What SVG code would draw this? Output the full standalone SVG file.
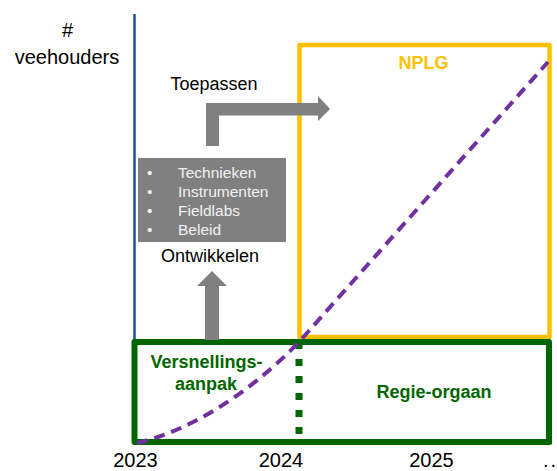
<svg xmlns="http://www.w3.org/2000/svg" width="557" height="471" viewBox="0 0 557 471">
<style>
text{font-family:"Liberation Sans",Arial,sans-serif}
.lbl{font-size:18px;fill:#000;text-anchor:middle}
.axis{font-size:20px;fill:#000;text-anchor:middle}
.bul{font-size:15.5px;fill:#F2F2F2}
.green{font-size:18px;font-weight:bold;fill:#006600;text-anchor:middle}
.gray{fill:#808080}
</style>
<g id="axes">
<line x1="134.5" y1="14" x2="134.5" y2="443" stroke="#1F4E9A" stroke-width="2.5"/>
<line x1="134" y1="443" x2="552" y2="443" stroke="#1F4E9A" stroke-width="2.5"/>
<text class="lbl" x="67.5" y="37" style="font-size:20px">#</text>
<text class="lbl" x="67" y="64" style="font-size:20px">veehouders</text>
</g>
<g id="nplg">
<rect x="299.5" y="45" width="250" height="292" fill="none" stroke="#FFC000" stroke-width="4.5" stroke-linejoin="round"/>
<text x="423.5" y="69" style="font-size:18px;font-weight:bold;fill:#FFC000" text-anchor="middle">NPLG</text>
</g>
<g id="versnellingsaanpak">
<path d="M299,342 H134.5 V442 H299" fill="none" stroke="#006600" stroke-width="6" stroke-linejoin="round"/>
<line x1="299" y1="342" x2="299" y2="442" stroke="#006600" stroke-width="7" stroke-dasharray="7 10"/>
<text class="green" x="206.5" y="368">Versnellings-</text>
<text class="green" x="206" y="390">aanpak</text>
</g>
<g id="regie-orgaan">
<path d="M299,342 H549 V442 H299" fill="none" stroke="#006600" stroke-width="6" stroke-linejoin="round"/>
<text class="green" x="434" y="398">Regie-orgaan</text>
</g>
<g id="ontwikkelen">
<rect class="gray" x="138" y="158" width="148" height="84"/>
<text class="bul" x="147" y="178">•</text>
<text class="bul" x="178" y="178">Technieken</text>
<text class="bul" x="147" y="197">•</text>
<text class="bul" x="178" y="197">Instrumenten</text>
<text class="bul" x="147" y="216">•</text>
<text class="bul" x="178" y="216">Fieldlabs</text>
<text class="bul" x="147" y="235">•</text>
<text class="bul" x="178" y="235">Beleid</text>
<text class="lbl" x="210" y="262">Ontwikkelen</text>
</g>
<g id="toepassen">
<text class="lbl" x="214" y="90">Toepassen</text>
</g>
<g id="connectors">
<polygon class="gray" points="205,340 219,340 219,286 227,286 212,271 197,286 205,286"/>
<polygon class="gray" points="206,146 219,146 219,115.5 318,115.5 318,121 330,109 318,96 318,103 206,103"/>
<path d="M137,443 C185,432 245,398 299,342 L548,62" fill="none" stroke="#7030A0" stroke-width="4" stroke-dasharray="11 7"/>
</g>
<g id="years">
<text class="axis" x="135.5" y="467">2023</text>
<text class="axis" x="281" y="467">2024</text>
<text class="axis" x="431.5" y="467">2025</text>
<text x="543" y="467" style="font-size:20px;fill:#000;letter-spacing:2px">..</text>
</g>
</svg>
